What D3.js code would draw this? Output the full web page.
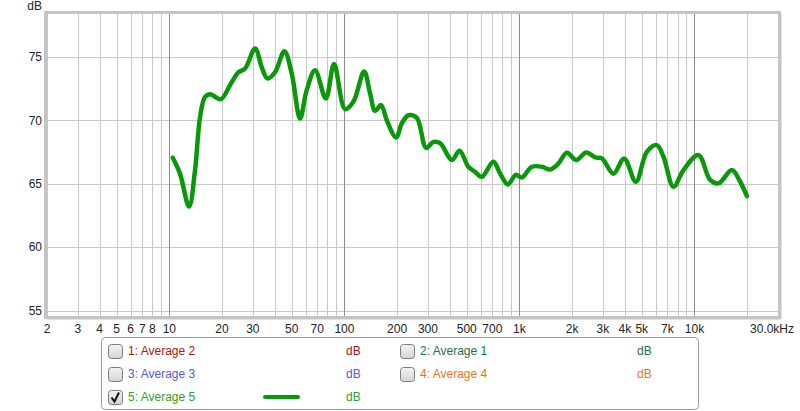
<!DOCTYPE html>
<html><head><meta charset="utf-8">
<script src="https://cdn.jsdelivr.net/npm/d3@7"></script>
<style>
body{margin:0;background:#fff;}
text{font-family:"Liberation Sans",Arial,sans-serif;}
</style></head>
<body><svg id="c" width="800" height="411"></svg>
<script>
const freqs = [10.46,11.5,12.96,14.02,14.98,16.0,17.1,19.7,22.2,24.8,27.1,30.9,33.7,36.3,40.2,45.4,50.0,55.8,60.9,68.0,78.3,87.3,100.9,112.5,129.6,140.3,149.7,162,174.7,197.4,212.7,232.3,259.3,293,322.6,352.4,411,454.4,511,558,609.5,710,776,859,953,1032,1177,1343,1497,1671,1866,2110,2405,2710,2958,3447,3964,4625,5343,6095,6650,7590,8650,10540,12290,13710,16360,18240,19930];
const dbs   = [67.05,65.8,63.2,66.08,70.28,71.85,72.06,71.67,72.77,73.77,74.09,75.66,74.2,73.3,73.8,75.45,73.7,70.15,72.38,73.95,71.72,74.43,70.88,71.46,73.85,72.1,70.75,71.2,70.0,68.65,69.75,70.4,70.2,67.83,68.3,68.2,66.87,67.6,66.34,65.94,65.55,66.73,65.8,64.95,65.7,65.5,66.34,66.34,66.13,66.6,67.44,66.87,67.47,67.08,67.0,65.8,67.0,65.16,67.52,68.05,67.13,64.76,66.08,67.26,65.3,65.03,66.08,65.16,64.03];
const yTicks = [55,60,65,70,75];
const gridFreqs = [2,3,4,5,6,7,8,9,10,20,30,40,50,60,70,80,90,100,200,300,400,500,600,700,800,900,1000,2000,3000,4000,5000,6000,7000,8000,9000,10000,20000];
const majorFreqs = [10,100,1000,10000];
const xLabelFreqs = [2,3,4,5,6,7,8,10,20,30,50,70,100,200,300,500,700,1000,2000,3000,4000,5000,7000,10000];
const xLabelTexts = ["2","3","4","5","6","7","8","10","20","30","50","70","100","200","300","500","700","1k","2k","3k","4k","5k","7k","10k"];
const legendNames = ["1: Average 2","2: Average 1","3: Average 3","4: Average 4","5: Average 5"];
const legendColors = ["#a01818","#1e6e4e","#5858c8","#e07818","#2ea02e"];
const legendChecked = [false,false,false,false,true];

const svg = d3.select("#c");
const L=47,R=778,T=14,B=316;
const x = d3.scaleLog().domain([2,30000]).range([L,R]);
const y = d3.scaleLinear().domain([54.58,78.38]).range([B,T]);

// grid
const g = svg.append("g");
g.selectAll(".h").data(yTicks).enter().append("line")
 .attr("x1",L).attr("x2",R).attr("y1",d=>Math.round(y(d))+0.5).attr("y2",d=>Math.round(y(d))+0.5)
 .attr("stroke","#c8c8c8").attr("stroke-width",1);
g.selectAll(".v").data(gridFreqs).enter().append("line")
 .attr("x1",d=>Math.round(x(d))+0.5).attr("x2",d=>Math.round(x(d))+0.5).attr("y1",T).attr("y2",B)
 .attr("stroke",d=>majorFreqs.includes(d)?"#8c8c8c":"#c8c8c8").attr("stroke-width",1);

// frame
svg.append("rect").attr("x",L-1.5).attr("y",T-1.5).attr("width",R-L+3).attr("height",B-T+3)
 .attr("fill","none").attr("stroke","#c4c4c4").attr("stroke-width",3);
svg.append("line").attr("x1",R+3.5).attr("x2",R+3.5).attr("y1",T).attr("y2",B+3).attr("stroke","#e2e2e2").attr("stroke-width",1);
svg.append("line").attr("x1",L).attr("x2",R+3).attr("y1",B+3.5).attr("y2",B+3.5).attr("stroke","#e2e2e2").attr("stroke-width",1);

// y labels
svg.selectAll(".yl").data(yTicks).enter().append("text")
 .attr("x",42).attr("y",d=>y(d)).attr("dy","0.35em").attr("text-anchor","end")
 .attr("font-size",12).attr("fill","#222").text(d=>d);
svg.append("text").attr("x",42).attr("y",10).attr("text-anchor","end").attr("font-size",12).attr("fill","#222").text("dB");

// x labels
svg.selectAll(".xl").data(xLabelFreqs).enter().append("text")
 .attr("x",d=>x(d)).attr("y",333).attr("text-anchor","middle")
 .attr("font-size",12).attr("fill","#222").text((d,i)=>xLabelTexts[i]);
svg.append("text").attr("x",794).attr("y",333).attr("text-anchor","end").attr("font-size",12).attr("fill","#222").text("30.0kHz");

// curve
const pts = freqs.map((f,i)=>[f,dbs[i]]);
const line = d3.line().x(d=>x(d[0])).y(d=>y(d[1])).curve(d3.curveCatmullRom.alpha(0.5));
svg.append("path").attr("d",line(pts)).attr("fill","none").attr("stroke","#0a980a")
 .attr("stroke-width",4.5).attr("stroke-linejoin","round").attr("stroke-linecap","round");

// legend
const lg = svg.append("g");
lg.append("rect").attr("x",101.5).attr("y",337.5).attr("width",597).attr("height",72).attr("rx",4)
 .attr("fill","#fff").attr("stroke","#9a9a9a");
const defs = svg.append("defs");
const grad = defs.append("linearGradient").attr("id","cb").attr("x1",0).attr("y1",0).attr("x2",0).attr("y2",1);
grad.append("stop").attr("offset","0").attr("stop-color","#f4f4f4");
grad.append("stop").attr("offset","1").attr("stop-color","#d4d4d4");
const colX = [108,400];
const rowY = [351,374,397];
const dbX = [346,637];
legendNames.forEach((n,i)=>{
  const c = i%2, r = Math.floor(i/2);
  const cx = colX[c], cy = rowY[r];
  lg.append("rect").attr("x",cx+0.5).attr("y",cy-6.5).attr("width",14).attr("height",14).attr("rx",3)
   .attr("fill","url(#cb)").attr("stroke","#7a7a7a");
  if(legendChecked[i]){
    lg.append("path").attr("d",`M${cx+3.5},${cy+0.5} L${cx+6.5},${cy+4.5} L${cx+11},${cy-4.5}`)
     .attr("fill","none").attr("stroke","#111").attr("stroke-width",2);
    lg.append("line").attr("x1",265).attr("x2",298).attr("y1",cy).attr("y2",cy)
     .attr("stroke","#0a980a").attr("stroke-width",4).attr("stroke-linecap","round");
  }
  lg.append("text").attr("x",cx+20).attr("y",cy).attr("dy","0.35em").attr("font-size",12)
   .attr("fill",legendColors[i]).text(n);
  lg.append("text").attr("x",dbX[c]).attr("y",cy).attr("dy","0.35em").attr("font-size",12)
   .attr("fill",legendColors[i]).text("dB");
});
</script></body></html>
